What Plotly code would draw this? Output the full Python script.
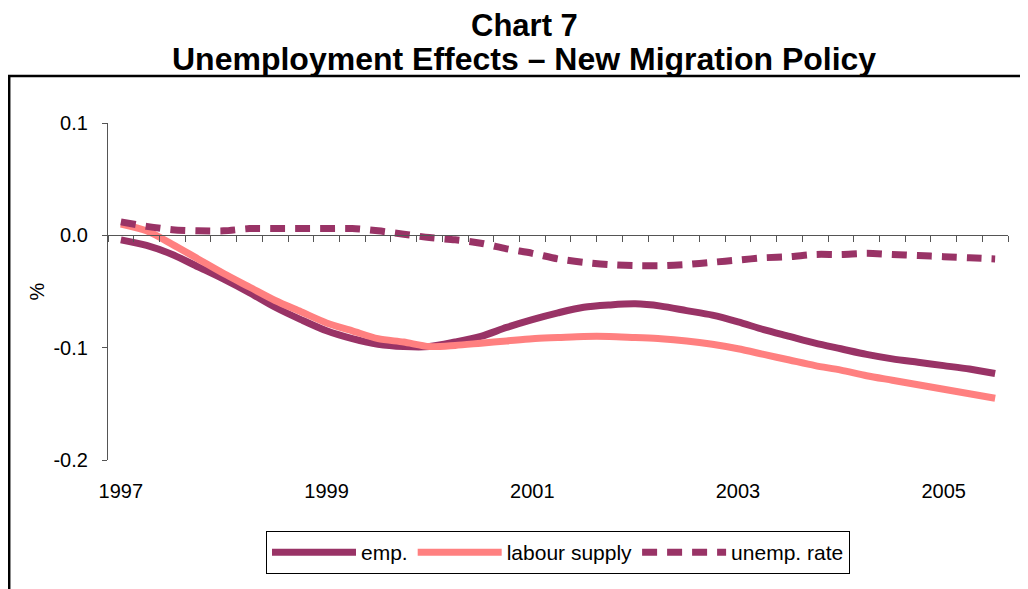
import plotly.graph_objects as go

years = list(range(1997, 2006))
quarters = [f"{y}Q{q}" for y in years for q in range(1, 5)][:35]

emp = [-0.004, -0.009, -0.017, -0.028, -0.039, -0.051, -0.064, -0.075, -0.085, -0.092,
       -0.097, -0.099, -0.099, -0.095, -0.090, -0.082, -0.075, -0.069, -0.064, -0.062,
       -0.061, -0.063, -0.067, -0.071, -0.077, -0.084, -0.090, -0.096, -0.101, -0.106,
       -0.110, -0.113, -0.116, -0.119, -0.123]
labour_supply = [0.010, 0.004, -0.008, -0.021, -0.034, -0.046, -0.058, -0.068, -0.078, -0.085,
                 -0.092, -0.095, -0.099, -0.098, -0.096, -0.094, -0.092, -0.091, -0.090, -0.090,
                 -0.091, -0.092, -0.094, -0.097, -0.101, -0.106, -0.111, -0.116, -0.120, -0.125,
                 -0.129, -0.133, -0.137, -0.141, -0.145]
unemp_rate = [0.012, 0.008, 0.005, 0.004, 0.004, 0.006, 0.006, 0.006, 0.006, 0.006,
              0.004, 0.001, -0.002, -0.004, -0.007, -0.012, -0.016, -0.021, -0.024, -0.026,
              -0.027, -0.027, -0.026, -0.024, -0.022, -0.020, -0.019, -0.017, -0.017, -0.016,
              -0.017, -0.018, -0.019, -0.020, -0.021]

year_labels = ["1997", "1999", "2001", "2003", "2005"]
y_ticks = [0.1, 0.0, -0.1, -0.2]
y_tick_text = ["0.1", "0.0", "-0.1", "-0.2"]

PLUM = "#993366"
CORAL = "#FF8080"
AXIS = "#555555"
FONT = "Liberation Sans, Arial, sans-serif"

W, H = 1020, 581
L, R, T, B = 100, 20, 115, 129
PW, PH = W - L - R, H - T - B


def px_x(px):
    return (px - L) / PW


def px_y(py):
    return (H - B - py) / PH


idx = list(range(len(quarters)))

fig = go.Figure()
fig.add_trace(go.Scatter(x=idx, y=emp, name="emp.", mode="lines",
                         line=dict(color=PLUM, width=7, shape="spline", smoothing=0.8)))
fig.add_trace(go.Scatter(x=idx, y=labour_supply, name="labour supply", mode="lines",
                         line=dict(color=CORAL, width=7, shape="spline", smoothing=0.8)))
fig.add_trace(go.Scatter(x=idx, y=unemp_rate, name="unemp. rate", mode="lines",
                         line=dict(color=PLUM, width=7, dash="15px,10px", shape="spline", smoothing=0.8)))
# helper trace so the zero-crossing category axis is drawn
fig.add_trace(go.Scatter(x=[0], y=[0], xaxis="x2", mode="markers", marker=dict(opacity=0),
                         showlegend=False, hoverinfo="skip"))

year_pos = [quarters.index(f"{y}Q1") for y in [1997, 1999, 2001, 2003, 2005]]
boundaries = [i - 0.5 for i in range(len(quarters) + 1)]

fig.update_layout(
    width=W, height=H,
    margin=dict(l=L, r=R, t=T, b=B),
    paper_bgcolor="white", plot_bgcolor="white",
    font=dict(family=FONT, size=20, color="black"),
    xaxis=dict(range=[-0.5, len(quarters) - 0.5], tickmode="array", tickvals=year_pos,
               ticktext=year_labels, ticks="", showline=False, showgrid=False, zeroline=False,
               ticklabelstandoff=17, tickfont=dict(size=20)),
    xaxis2=dict(overlaying="x", matches="x", anchor="free", position=2 / 3, side="bottom",
                showline=True, linecolor=AXIS, linewidth=1.2, ticks="outside", ticklen=6,
                tickcolor=AXIS, tickwidth=1.2, tickmode="array", tickvals=boundaries,
                showticklabels=False, showgrid=False, zeroline=False),
    yaxis=dict(range=[-0.2, 0.1], tickmode="array", tickvals=y_ticks, ticktext=y_tick_text,
               showline=True, linecolor=AXIS, linewidth=1.2, ticks="outside", ticklen=5,
               tickcolor=AXIS, tickwidth=1.2, showgrid=False, zeroline=False,
               ticklabelstandoff=10, tickfont=dict(size=20),
               title=dict(text="%", standoff=3, font=dict(size=20))),
    legend=dict(orientation="h", x=px_x(550), xanchor="center", y=px_y(523), yanchor="top",
                bordercolor="black", borderwidth=1, bgcolor="white",
                font=dict(size=21), itemwidth=84, tracegroupgap=0),
    annotations=[
        dict(text="<b>Chart 7</b>", xref="paper", yref="paper", x=px_x(516), y=px_y(18),
             xanchor="center", yanchor="middle", showarrow=False,
             font=dict(family=FONT, size=31, color="black")),
        dict(text="<b>Unemployment Effects – New Migration Policy</b>", xref="paper", yref="paper",
             x=px_x(516), y=px_y(51), xanchor="center", yanchor="middle", showarrow=False,
             font=dict(family=FONT, size=32, color="black")),
    ],
    shapes=[
        dict(type="line", xref="paper", yref="paper", x0=px_x(1.2), x1=px_x(1.2),
             y0=px_y(H), y1=px_y(67.5), line=dict(color="black", width=2.5), layer="below"),
        dict(type="line", xref="paper", yref="paper", x0=px_x(0), x1=px_x(W),
             y0=px_y(68), y1=px_y(68), line=dict(color="black", width=2.5), layer="below"),
    ],
)

fig.write_html("out.html")
